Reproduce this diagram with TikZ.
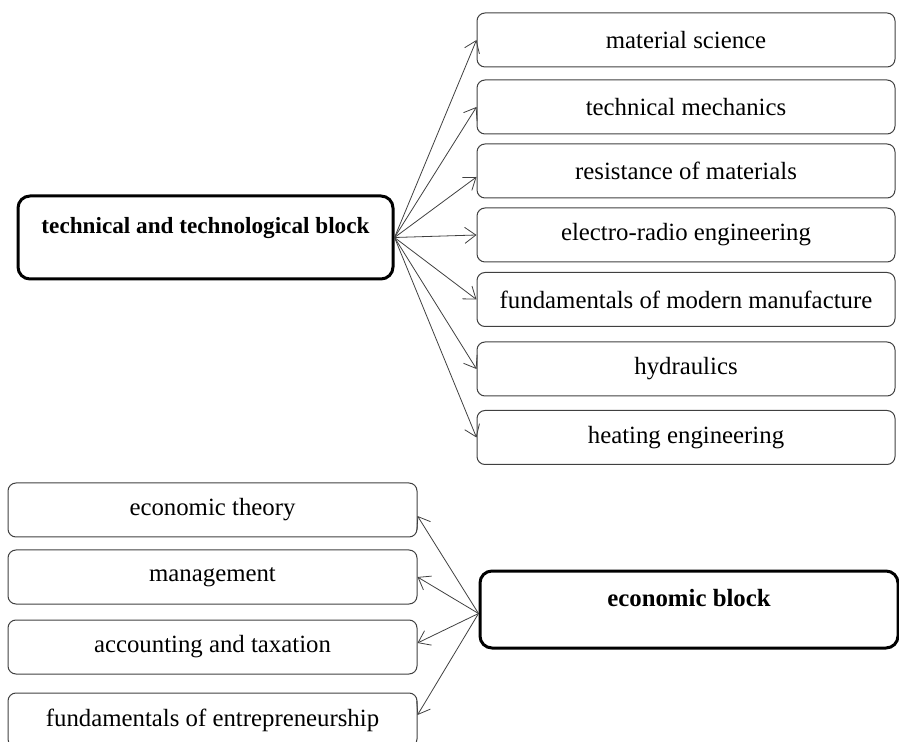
\documentclass[tikz,border=0pt]{standalone}
\usepackage{fontspec}
\setmainfont{Liberation Serif}
\usetikzlibrary{arrows.meta}
\definecolor{trait}{RGB}{64,64,64}

\begin{document}
\begin{tikzpicture}[
    x=0.5pt, y=-0.5pt,
    bloc/.style={draw=black, line width=1.5pt, rounded corners=6pt,
                 minimum width=187.5pt, minimum height=41.5pt,
                 text height=8pt, text depth=11.5pt,
                 font=\fontsize{11.6}{14}\selectfont\bfseries},
    matiere/.style={draw=trait, line width=0.5pt, rounded corners=4pt,
                    minimum width=209pt, minimum height=27pt,
                    font=\fontsize{12.4}{15}\selectfont},
    fleche/.style={-{Straight Barb[length=5.5pt,width=8pt]}, trait, line width=0.4pt}
  ]
    \useasboundingbox (0,0) rectangle (899,742);

    % Technical block
    \node[bloc] (tech) at (205.5,237.5) {technical and technological block};

    \node[matiere] (matsci) at (686,40)    {material science};
    \node[matiere] (mech)   at (686,107)   {technical mechanics};
    \node[matiere] (resist) at (686,171)   {resistance of materials};
    \node[matiere] (radio)  at (686,235)   {electro-radio engineering};
    \node[matiere] (manuf)  at (686,299.5) {fundamentals of modern manufacture};
    \node[matiere] (hydro)  at (686,369)   {hydraulics};
    \node[matiere] (heat)   at (686,437.5) {heating engineering};

    \draw[fleche] (tech.east) -- (matsci.west);
    \draw[fleche] (tech.east) -- (mech.west);
    \draw[fleche] (tech.east) -- ([yshift=-3pt]resist.west);
    \draw[fleche] (tech.east) -- (radio.west);
    \draw[fleche] (tech.east) -- (manuf.west);
    \draw[fleche] (tech.east) -- (hydro.west);
    \draw[fleche] (tech.east) -- (heat.west);

    % Economic block
    \node[bloc, minimum width=209pt, minimum height=38.5pt,
          font=\fontsize{12.4}{15}\selectfont\bfseries] (eco) at (689,609.5) {economic block};

    \node[matiere, minimum width=204.5pt] (theory)  at (212.5,510) {economic theory};
    \node[matiere, minimum width=204.5pt] (manag)   at (212.5,577) {management};
    \node[matiere, minimum width=204.5pt] (account) at (212.5,647) {accounting and taxation};
    \node[matiere, minimum width=204.5pt] (entre)   at (212.5,720) {fundamentals of entrepreneurship};

    \draw[fleche] ([yshift=-2pt]eco.west) -- ([yshift=-3pt]theory.east);
    \draw[fleche] ([yshift=-2pt]eco.west) -- (manag.east);
    \draw[fleche] ([yshift=-2pt]eco.west) -- ([yshift=2pt]account.east);
    \draw[fleche] ([yshift=-2pt]eco.west) -- ([yshift=2.5pt]entre.east);
\end{tikzpicture}
\end{document}
